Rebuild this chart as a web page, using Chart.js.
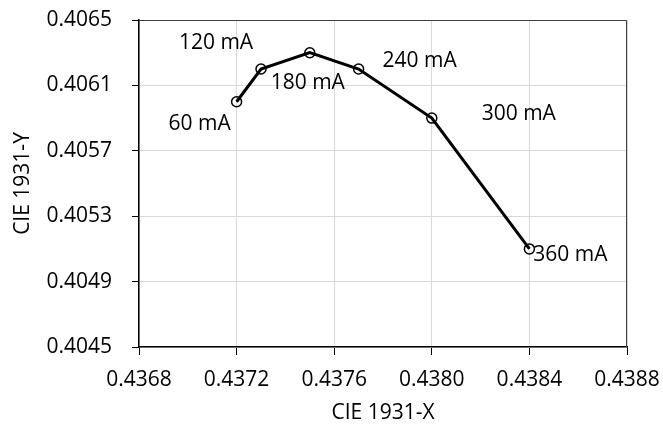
<!DOCTYPE html>
<html>
<head>
<meta charset="utf-8">
<script src="https://cdn.jsdelivr.net/npm/chart.js@4"></script>
<style>
  html, body { margin: 0; padding: 0; background: #fff; }
  #wrap { width: 663px; height: 426px; }
</style>
</head>
<body>
<div id="wrap"><canvas id="chart" width="663" height="426"></canvas></div>
<script>
// data
const currents = ['60 mA', '120 mA', '180 mA', '240 mA', '300 mA', '360 mA'];
const cieX = [0.4372, 0.4373, 0.4375, 0.4377, 0.4380, 0.4384];
const cieY = [0.4060, 0.4062, 0.4063, 0.4062, 0.4059, 0.4051];
const xTicks = [0.4368, 0.4372, 0.4376, 0.4380, 0.4384, 0.4388];
const yTicks = [0.4045, 0.4049, 0.4053, 0.4057, 0.4061, 0.4065];

// where each label sits relative to its point (px)
const labelOffsets = [[-37, 22], [-45, -26], [-2, 30], [61, -8], [87, -4], [41, 6]];

const FONT = "'Open Sans', 'Noto Sans', sans-serif";
const FS = 21;

const pts = cieX.map((x, i) => ({ x: x, y: cieY[i] }));

const boxPlugin = {
  id: 'box',
  afterDatasetsDraw(chart) {
    const { ctx, chartArea: a } = chart;
    ctx.save();
    ctx.strokeStyle = '#404040';
    ctx.lineWidth = 1;
    ctx.beginPath();
    ctx.moveTo(a.left, a.top + 0.5);
    ctx.lineTo(a.right - 0.5, a.top + 0.5);
    ctx.lineTo(a.right - 0.5, a.bottom);
    ctx.stroke();
    ctx.restore();
  }
};

const labelPlugin = {
  id: 'pointLabels',
  afterDatasetsDraw(chart) {
    const { ctx } = chart;
    const meta = chart.getDatasetMeta(0);
    ctx.save();
    ctx.font = FS + 'px ' + FONT;
    ctx.fillStyle = '#000';
    ctx.textAlign = 'center';
    ctx.textBaseline = 'middle';
    meta.data.forEach((p, i) => {
      const o = labelOffsets[i];
      ctx.fillText(currents[i], p.x + o[0], p.y + o[1]);
    });
    ctx.restore();
  }
};

const config = {
  type: 'scatter',
  data: {
    datasets: [{
      data: pts,
      showLine: true,
      borderColor: '#000',
      borderWidth: 3,
      pointRadius: 5,
      pointBorderWidth: 1.5,
      pointBackgroundColor: 'rgba(255,255,255,0)',
      pointBorderColor: '#000'
    }]
  },
  options: {
    responsive: false,
    animation: false,
    layout: { padding: { top: 20, right: 36, bottom: 0, left: 10 } },
    plugins: { legend: { display: false }, tooltip: { enabled: false } },
    scales: {
      x: {
        type: 'linear',
        min: 0.4368,
        max: 0.4388,
        afterBuildTicks: axis => { axis.ticks = xTicks.map(v => ({ value: v })); },
        afterFit: axis => { axis.height = 79; axis.paddingLeft = 0; axis.paddingRight = 0; },
        ticks: {
          color: '#000',
          font: { family: FONT, size: FS },
          padding: 12,
          maxRotation: 0,
          callback: v => v.toFixed(4)
        },
        grid: { color: '#d9d9d9', tickColor: '#000', tickLength: 8, lineWidth: 1 },
        border: { color: '#000', width: 1.5 },
        title: {
          display: true,
          text: 'CIE 1931-X',
          color: '#000',
          font: { family: FONT, size: FS },
          padding: { top: 2, bottom: 0 }
        }
      },
      y: {
        type: 'linear',
        min: 0.4045,
        max: 0.4065,
        afterBuildTicks: axis => { axis.ticks = yTicks.map(v => ({ value: v })); },
        afterFit: axis => { axis.width = 129; axis.paddingTop = 0; axis.paddingBottom = 0; },
        ticks: {
          color: '#000',
          font: { family: FONT, size: FS },
          padding: 20,
          callback: v => v.toFixed(4)
        },
        grid: { color: '#d9d9d9', tickColor: '#000', tickLength: 7, lineWidth: 1 },
        border: { color: '#000', width: 1.5 },
        title: {
          display: true,
          text: 'CIE 1931-Y',
          color: '#000',
          font: { family: FONT, size: FS },
          padding: { top: 0, bottom: 0 }
        }
      }
    }
  },
  plugins: [boxPlugin, labelPlugin]
};

new Chart(document.getElementById('chart'), config);
</script>
</body>
</html>
